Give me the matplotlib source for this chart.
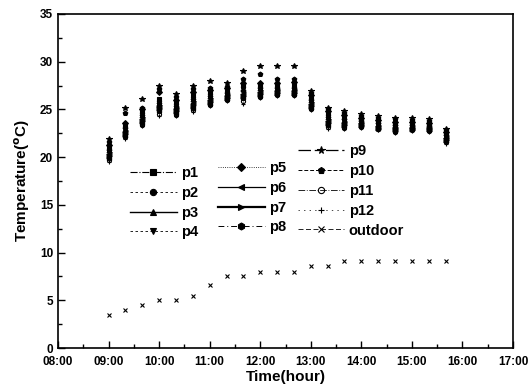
import matplotlib
matplotlib.use('Agg')
import matplotlib.pyplot as plt
from matplotlib.lines import Line2D
from matplotlib.ticker import MultipleLocator, FuncFormatter

plt.rcParams['font.family'] = ['Liberation Sans', 'DejaVu Sans']
plt.rcParams['font.weight'] = 'bold'
plt.rcParams['mathtext.default'] = 'bf'

# sampling times (every 20 min)
times = ['09:00', '09:20', '09:40', '10:00', '10:20', '10:40', '11:00',
         '11:20', '11:40', '12:00', '12:20', '12:40', '13:00', '13:20',
         '13:40', '14:00', '14:20', '14:40', '15:00', '15:20', '15:40']

p1 = [21.1, 23.4, 24.8, 26.1, 25.8, 26.6, 26.8, 27.0, 27.6, 27.6, 27.6, 27.6, 26.3, 24.6, 24.2, 24.0, 23.7, 23.5, 23.6, 23.5, 22.5]
p2 = [20.9, 23.2, 24.6, 25.9, 25.6, 26.3, 26.6, 26.8, 27.3, 27.4, 27.4, 27.4, 26.1, 24.4, 24.0, 23.9, 23.6, 23.4, 23.4, 23.4, 22.3]
p3 = [20.7, 23.0, 24.4, 25.7, 25.4, 26.1, 26.4, 26.7, 27.1, 27.2, 27.2, 27.2, 26.0, 24.2, 23.9, 23.8, 23.5, 23.3, 23.3, 23.3, 22.2]
p4 = [20.5, 22.8, 24.2, 25.5, 25.2, 25.9, 26.2, 26.5, 26.8, 27.0, 27.0, 27.0, 25.8, 24.0, 23.8, 23.6, 23.4, 23.2, 23.2, 23.1, 22.1]
p5 = [21.3, 23.6, 25.0, 26.8, 26.0, 26.8, 27.0, 27.2, 27.8, 27.8, 27.8, 27.9, 26.5, 24.8, 24.4, 24.1, 23.9, 23.7, 23.7, 23.6, 22.6]
p6 = [20.3, 22.6, 24.0, 25.3, 25.0, 25.7, 26.0, 26.4, 26.6, 26.8, 26.9, 26.9, 25.6, 23.8, 23.6, 23.5, 23.2, 23.0, 23.1, 23.0, 22.0]
p7 = [20.1, 22.4, 23.8, 25.1, 24.8, 25.4, 25.8, 26.2, 26.4, 26.6, 26.7, 26.7, 25.4, 23.6, 23.4, 23.4, 23.1, 22.9, 23.0, 22.9, 21.8]
p8 = [19.9, 22.2, 23.6, 24.8, 24.6, 25.2, 25.6, 26.1, 26.2, 26.4, 26.6, 26.6, 25.2, 23.4, 23.3, 23.3, 23.0, 22.7, 22.9, 22.8, 21.7]
p9 = [21.9, 25.1, 26.1, 27.5, 26.6, 27.5, 28.0, 27.8, 29.0, 29.6, 29.6, 29.6, 26.9, 25.2, 24.8, 24.5, 24.3, 24.1, 24.1, 24.0, 22.9]
p10 = [21.6, 24.6, 25.2, 27.1, 26.3, 27.1, 27.2, 27.4, 28.2, 28.7, 28.2, 28.2, 26.7, 25.0, 24.6, 24.3, 24.1, 24.0, 23.9, 23.8, 22.8]
p11 = [19.7, 22.1, 23.4, 24.5, 24.4, 24.9, 25.5, 26.0, 25.9, 26.3, 26.5, 26.5, 25.0, 23.2, 23.1, 23.2, 22.9, 22.6, 22.8, 22.7, 21.6]
p12 = [19.5, 21.9, 23.3, 24.3, 24.3, 24.7, 25.4, 25.9, 25.6, 26.2, 26.4, 26.4, 24.9, 23.0, 23.0, 23.1, 22.8, 22.5, 22.7, 22.6, 21.4]
outdoor = [3.5, 4.0, 4.5, 5.0, 5.0, 5.5, 6.6, 7.5, 7.5, 8.0, 8.0, 8.0, 8.6, 8.6, 9.1, 9.1, 9.1, 9.1, 9.1, 9.1, 9.1]

labels = ['p1', 'p2', 'p3', 'p4', 'p5', 'p6', 'p7', 'p8', 'p9', 'p10', 'p11', 'p12', 'outdoor']
series = [p1, p2, p3, p4, p5, p6, p7, p8, p9, p10, p11, p12, outdoor]

# marker, face, size, legend linestyle, legend linewidth
styles = [
    ('s', 'k', 3, '-.', 0.8),
    ('o', 'k', 3, (0, (3, 3)), 0.6),
    ('^', 'k', 3.5, '-', 1.0),
    ('v', 'k', 3.5, (0, (3, 3)), 0.6),
    ('D', 'k', 3, ':', 0.6),
    ('<', 'k', 3.5, '-', 0.9),
    ('>', 'k', 3.5, '-', 1.6),
    ('h', 'k', 3.5, (0, (6, 3, 1, 3)), 0.7),
    ('*', 'k', 4, (0, (10, 3, 6, 3)), 0.9),
    ('p', 'k', 3.5, (0, (4, 2)), 0.7),
    ('o', 'none', 3, (0, (8, 2, 1, 2)), 0.6),
    ('+', 'k', 3, (0, (2, 6)), 0.5),
    ('x', 'k', 2.5, (0, (6, 3)), 0.6),
]

def to_hours(t):
    h, m = t.split(':')
    return int(h) + int(m) / 60.0

x = [to_hours(t) for t in times]

fig = plt.figure(figsize=(5.29, 3.92), dpi=100)
ax = fig.add_axes([0.1096, 0.1122, 0.8602, 0.8521])

handles = []
for lab, ys, st in zip(labels, series, styles):
    m, fc, ms, ls, lw = st
    ax.plot(x, ys, linestyle='none', marker=m, markersize=ms,
            markerfacecolor=fc, markeredgecolor='k', markeredgewidth=0.8, color='k')
    handles.append(Line2D([], [], color='k', linestyle=ls, linewidth=lw, marker=m,
                          markersize=ms + 1.5, markerfacecolor=fc, markeredgecolor='k',
                          markeredgewidth=0.8))

ax.set_xlim(8, 17)
ax.set_ylim(0, 35)
ax.xaxis.set_major_locator(MultipleLocator(1))
ax.xaxis.set_minor_locator(MultipleLocator(0.5))
ax.yaxis.set_major_locator(MultipleLocator(5))
ax.yaxis.set_minor_locator(MultipleLocator(2.5))
ax.xaxis.set_major_formatter(FuncFormatter(lambda v, p: '%02d:00' % int(round(v))))
ax.tick_params(which='both', direction='in', top=False, right=False, labelsize=8.5, width=1)
ax.tick_params(which='major', length=5)
ax.tick_params(which='minor', length=3)
ax.tick_params(axis='x', pad=6)
for sp in ax.spines.values():
    sp.set_linewidth(1.2)

ax.set_xlabel('Time(hour)', fontsize=11, fontweight='bold', labelpad=1)
ax.set_ylabel(r'Temperature($^{\rm o}$C)', fontsize=11, fontweight='bold', labelpad=6)

groups = [(0, 4, 0.158, 0.545), (4, 8, 0.352, 0.560), (8, 13, 0.527, 0.610)]
legs = []
for a, b, lx, ly in groups:
    lg = ax.legend(handles[a:b], labels[a:b], loc='upper left', bbox_to_anchor=(lx, ly),
                   frameon=False, handlelength=3.2, handletextpad=0.3,
                   labelspacing=0.4, borderpad=0, borderaxespad=0,
                   prop={'weight': 'bold', 'size': 10.5})
    legs.append(lg)
for lg in legs[:-1]:
    ax.add_artist(lg)

fig.savefig('out.png', dpi=100)
